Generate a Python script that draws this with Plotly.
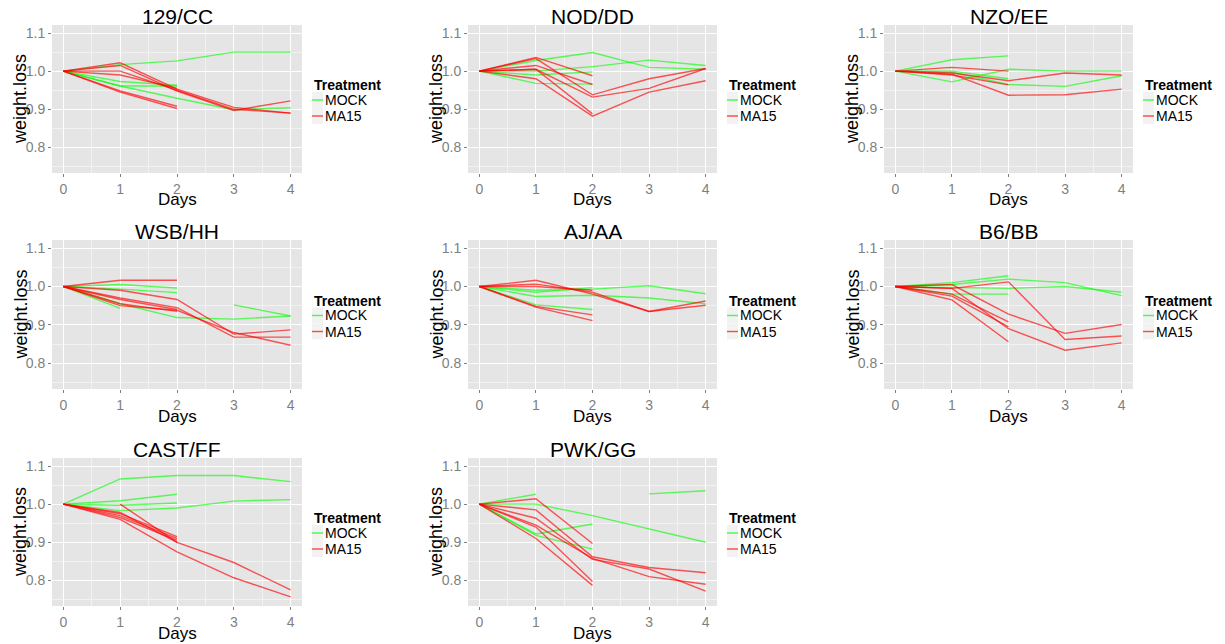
import plotly.graph_objects as go

# ---------------- data ----------------
DAYS = [0, 1, 2, 3, 4]
STRAINS = ["129/CC", "NOD/DD", "NZO/EE", "WSB/HH", "AJ/AA", "B6/BB", "CAST/FF", "PWK/GG"]
TREATMENTS = ["MOCK", "MA15"]
X_TICKS = [0, 1, 2, 3, 4]
Y_TICKS = [0.8, 0.9, 1.0, 1.1]
Y_TICK_TEXT = ["0.8", "0.9", "1.0", "1.1"]
N = None

CC_MOCK = [
    [1, 1.017, 1.027, 1.050, 1.050],
    [1, 0.973, 0.963, N, N],
    [1, 0.961, 0.961, N, N],
    [1, 0.961, 0.929, 0.899, 0.904],
]
CC_MA15 = [
    [1, 1.022, 0.953, 0.905, 0.890],
    [1, 1.015, 0.948, 0.897, 0.922],
    [1, 1.000, 0.950, 0.900, 0.890],
    [1, 0.990, 0.955, N, N],
    [1, 0.948, 0.908, N, N],
    [1, 0.945, 0.902, N, N],
]
DD_MOCK = [
    [1, 1.028, 1.049, 1.010, 1.005],
    [1, 1.000, 1.012, 1.029, 1.015],
    [1, 0.990, 0.998, N, N],
    [1, 0.968, 0.966, N, N],
]
DD_MA15 = [
    [1, 1.036, 0.988, N, N],
    [1, 1.033, 0.938, 0.980, 1.007],
    [1, 1.015, 0.965, N, N],
    [1, 1.005, 0.932, 0.955, 1.007],
    [1, 0.980, 0.882, 0.945, 0.975],
    [1, 1.005, 0.888, N, N],
]
EE_MOCK = [
    [1, 1.030, 1.040, N, N],
    [1, 0.972, 1.005, 1.000, 1.000],
    [1, 1.000, 0.980, N, N],
    [1, 0.997, 0.965, 0.960, 0.988],
]
EE_MA15 = [
    [1, 1.010, 1.000, N, N],
    [1, 0.995, 0.975, 0.995, 0.990],
    [1, 0.990, 0.964, N, N],
    [1, 0.992, 0.937, 0.938, 0.953],
]
HH_MOCK = [
    [1, 1.005, 0.996, N, N],
    [1, 0.993, 0.984, N, N],
    [1, 0.943, N, N, N],
    [1, 0.955, 0.919, 0.915, 0.923],
    [N, N, N, 0.952, 0.923],
]
HH_MA15 = [
    [1, 1.016, 1.016, N, N],
    [1, 0.990, 0.966, 0.876, 0.887],
    [1, 0.970, 0.945, 0.868, 0.868],
    [1, 0.950, 0.938, 0.880, 0.847],
    [1, 0.966, 0.940, N, N],
    [1, 0.955, 0.935, N, N],
]
AA_MOCK = [
    [1, 0.990, 0.993, 1.002, 0.981],
    [1, 0.974, 0.977, 0.970, 0.955],
    [1, 0.985, 0.997, N, N],
    [1, 0.952, 0.940, N, N],
]
AA_MA15 = [
    [1, 1.016, 0.980, 0.935, 0.962],
    [1, 1.006, 0.985, 0.935, 0.951],
    [1, 1.000, 0.990, N, N],
    [1, 0.948, 0.926, N, N],
    [1, 0.946, 0.911, N, N],
]
BB_MOCK = [
    [1, 1.010, 1.028, N, N],
    [1, 1.005, 1.019, 1.010, 0.976],
    [1, 0.998, 0.995, 1.000, 0.985],
    [1, 0.980, 0.980, N, N],
]
BB_MA15 = [
    [1, 0.995, 1.012, 0.862, 0.871],
    [1, 1.005, 0.928, 0.878, 0.901],
    [1, 0.995, 0.890, 0.834, 0.853],
    [1, 0.980, 0.908, N, N],
    [1, 0.965, 0.856, N, N],
    [1, 0.975, 0.895, N, N],
]
FF_MOCK = [
    [1, 1.066, 1.075, 1.075, 1.059],
    [1, 1.009, 1.026, N, N],
    [1, 0.997, 1.003, N, N],
    [1, 0.983, 0.990, 1.008, 1.012],
]
FF_MA15 = [
    [N, 1.000, 0.900, 0.847, 0.775],
    [1, 0.960, 0.875, 0.807, 0.757],
    [1, 0.975, 0.915, N, N],
    [1, 0.970, 0.910, N, N],
    [1, 0.965, 0.905, N, N],
    [1, 0.978, 0.900, N, N],
]
GG_MOCK = [
    [1, 1.026, N, N, N],
    [1, 1.000, 0.970, 0.935, 0.900],
    [1, 0.922, 0.948, N, N],
    [1, 0.918, 0.882, N, N],
    [N, N, N, 1.027, 1.035],
]
GG_MA15 = [
    [1, 1.014, 0.897, N, N],
    [1, 0.985, 0.862, 0.834, 0.820],
    [1, 0.963, 0.855, 0.830, 0.772],
    [1, 0.945, 0.858, 0.810, 0.790],
    [1, 0.940, 0.797, N, N],
    [1, 0.910, 0.787, N, N],
]

PANEL_DATA = [
    (CC_MOCK, CC_MA15), (DD_MOCK, DD_MA15), (EE_MOCK, EE_MA15),
    (HH_MOCK, HH_MA15), (AA_MOCK, AA_MA15), (BB_MOCK, BB_MA15),
    (FF_MOCK, FF_MA15), (GG_MOCK, GG_MA15),
]

# ---------------- layout / style ----------------
W, H = 1225, 644
COL_X = [(52, 302), (468, 717), (884, 1133)]
ROW_Y = [(25, 173), (240, 389), (458, 606)]
COLORS = {"MOCK": "rgba(0,255,0,0.62)", "MA15": "rgba(255,0,0,0.65)"}
KEY_COLORS = {"MOCK": "rgba(0,255,0,0.7)", "MA15": "rgba(255,0,0,0.7)"}
FONT = "Liberation Sans, Arial, sans-serif"
GREY_TXT = "#7F7F7F"


def fx(x):
    return x / W


def fy(y):
    return 1 - y / H


fig = go.Figure()
annotations = []
shapes = []
layout_axes = {}

for i, strain in enumerate(STRAINS):
    r, c = divmod(i, 3)
    x0, x1 = COL_X[c]
    y0, y1 = ROW_Y[r]
    idx = "" if i == 0 else str(i + 1)
    xa, ya = "x" + idx, "y" + idx

    for t, series in zip(TREATMENTS, PANEL_DATA[i]):
        for s in series:
            fig.add_trace(go.Scatter(
                x=DAYS, y=s, mode="lines", xaxis=xa, yaxis=ya,
                line=dict(color=COLORS[t], width=1.4),
                connectgaps=False, showlegend=False, hoverinfo="skip",
            ))

    layout_axes["xaxis" + idx] = dict(
        domain=[fx(x0), fx(x1)], anchor=ya, range=[-0.2, 4.2],
        tickmode="array", tickvals=X_TICKS, ticktext=[str(v) for v in X_TICKS],
        tickfont=dict(size=14, color=GREY_TXT, family=FONT),
        ticks="outside", ticklen=3, tickcolor=GREY_TXT, tickwidth=1,
        showgrid=True, gridcolor="white", gridwidth=1.2,
        minor=dict(tickvals=[0.5, 1.5, 2.5, 3.5], showgrid=True,
                   gridcolor="#F2F2F2", gridwidth=0.6, ticks=""),
        zeroline=False, showline=False, fixedrange=True,
    )
    layout_axes["yaxis" + idx] = dict(
        domain=[fy(y1), fy(y0)], anchor=xa, range=[0.733, 1.121],
        tickmode="array", tickvals=Y_TICKS, ticktext=Y_TICK_TEXT,
        tickfont=dict(size=14, color=GREY_TXT, family=FONT),
        ticks="outside", ticklen=3, tickcolor=GREY_TXT, tickwidth=1,
        showgrid=True, gridcolor="white", gridwidth=1.2,
        minor=dict(tickvals=[0.75, 0.85, 0.95, 1.05], showgrid=True,
                   gridcolor="#F2F2F2", gridwidth=0.6, ticks=""),
        zeroline=False, showline=False, fixedrange=True,
    )

    cx = (x0 + x1) / 2
    cy = (y0 + y1) / 2
    # panel title
    annotations.append(dict(x=fx(cx), y=fy(y0 - 9), xref="paper", yref="paper",
                            text=strain, showarrow=False, xanchor="center", yanchor="middle",
                            font=dict(size=21, color="black", family=FONT)))
    # axis titles
    annotations.append(dict(x=fx(cx), y=fy(y1 + 27), xref="paper", yref="paper",
                            text="Days", showarrow=False, xanchor="center", yanchor="middle",
                            font=dict(size=17, color="black", family=FONT)))
    annotations.append(dict(x=fx(x0 - 32), y=fy(cy), xref="paper", yref="paper",
                            text="weight.loss", showarrow=False, textangle=-90,
                            xanchor="center", yanchor="middle",
                            font=dict(size=18, color="black", family=FONT)))
    # legend
    lx = x1 + 10
    annotations.append(dict(x=fx(lx), y=fy(cy - 14), xref="paper", yref="paper",
                            text="<b>Treatment</b>", showarrow=False, xanchor="left",
                            yanchor="middle", font=dict(size=14, color="black", family=FONT)))
    for k, t in enumerate(TREATMENTS):
        ky = cy + 1 + 16 * k
        shapes.append(dict(type="rect", xref="paper", yref="paper",
                           x0=fx(lx), x1=fx(lx + 11), y0=fy(ky + 8), y1=fy(ky - 8),
                           fillcolor="#F2F2F2", line=dict(width=0), layer="below"))
        shapes.append(dict(type="line", xref="paper", yref="paper",
                           x0=fx(lx), x1=fx(lx + 11), y0=fy(ky), y1=fy(ky),
                           line=dict(color=KEY_COLORS[t], width=1.4)))
        annotations.append(dict(x=fx(lx + 11), y=fy(ky), xref="paper", yref="paper",
                                text=t, showarrow=False, xanchor="left", yanchor="middle",
                                font=dict(size=14, color="black", family=FONT)))

fig.update_layout(
    width=W, height=H, margin=dict(l=0, r=0, t=0, b=0),
    paper_bgcolor="white", plot_bgcolor="#E5E5E5",
    showlegend=False, annotations=annotations, shapes=shapes,
    font=dict(family=FONT),
    **layout_axes,
)

fig.write_html(
    "out.html",
    config={"displayModeBar": False},
    post_script="document.body.style.margin='0px';document.body.style.overflow='hidden';",
)
